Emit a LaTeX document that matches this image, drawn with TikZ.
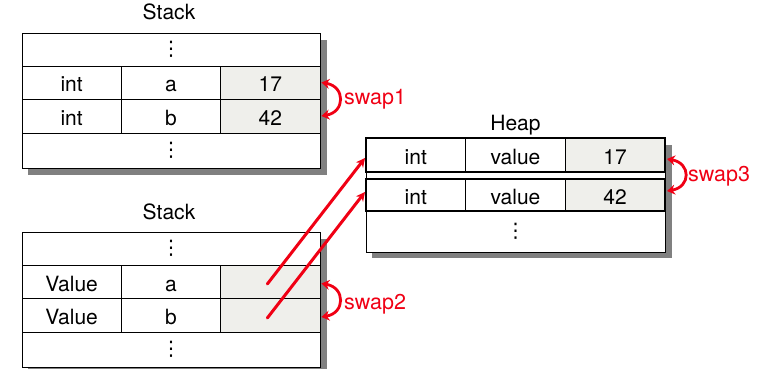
\documentclass[tikz,border=0pt]{standalone}
\usepackage{fontspec}
\setmainfont{TeX Gyre Heros}
\newfontfamily\dotsfont{DejaVu Sans}
\usetikzlibrary{arrows.meta}
\definecolor{cellgray}{RGB}{239,239,235}
\definecolor{swapred}{RGB}{240,0,20}
\begin{document}
\begin{tikzpicture}[x=1pt,y=-1pt,
  txt/.style={font=\fontsize{21}{25}\selectfont,inner sep=0pt,text height=19pt,text depth=0pt},
  cell/.style={txt,draw=black,fill=white,line width=0.8pt,minimum width=99.33pt,anchor=center},
  valcell/.style={cell,fill=cellgray},
  dotcell/.style={draw=black,fill=white,line width=0.8pt,inner sep=0pt,font=\dotsfont\fontsize{20}{24}\selectfont,anchor=center},
  heaprow/.style={draw=black,line width=2pt,inner sep=0pt,minimum width=299pt},
  shadowbox/.style={fill=black!50,draw=none},
  swaparrow/.style={draw=swapred,line width=2.8pt,{Stealth[length=8pt,width=10pt]}-{Stealth[length=8pt,width=10pt]}},
  ptr/.style={draw=swapred,line width=3pt,line cap=round,-{Stealth[length=9pt,width=9pt]}},
  swaplabel/.style={txt,font=\fontsize{21.5}{25}\selectfont,text=swapred,anchor=west}]
\useasboundingbox (0,0) rectangle (769,369);

% ---------- Stack 1 ----------
\node[txt] (t1) at (169,10.5) {Stack};
\fill[shadowbox] (28,40) rectangle (327,175);
\node[dotcell,minimum width=298pt,minimum height=33pt] (s1top) at (171,49.5) {⋮};
\node[cell,minimum height=33pt] (s1a1) at (71.67,82.5) {int};
\node[cell,minimum height=33pt] (s1a2) at (171,82.5) {a};
\node[valcell,minimum height=33pt] (s1a3) at (270.33,82.5) {17};
\node[cell,minimum height=34pt] (s1b1) at (71.67,116) {int};
\node[cell,minimum height=34pt] (s1b2) at (171,116) {b};
\node[valcell,minimum height=34pt] (s1b3) at (270.33,116) {42};
\node[dotcell,minimum width=298pt,minimum height=35pt] (s1bot) at (171,150.5) {⋮};

% ---------- Stack 2 ----------
\node[txt] (t2) at (169,209.5) {Stack};
\fill[shadowbox] (28,239) rectangle (327,374);
\node[dotcell,minimum width=298pt,minimum height=33pt] (s2top) at (171,248.5) {⋮};
\node[cell,minimum height=33pt] (s2a1) at (71.67,281.5) {Value};
\node[cell,minimum height=33pt] (s2a2) at (171,281.5) {a};
\node[valcell,minimum height=33pt] (s2a3) at (270.33,281.5) {};
\node[cell,minimum height=34pt] (s2b1) at (71.67,315) {Value};
\node[cell,minimum height=34pt] (s2b2) at (171,315) {b};
\node[valcell,minimum height=34pt] (s2b3) at (270.33,315) {};
\node[dotcell,minimum width=298pt,minimum height=35pt] (s2bot) at (171,349.5) {⋮};

% ---------- Heap ----------
\node[txt] (t3) at (515.5,120.5) {Heap};
\fill[shadowbox] (372,145) rectangle (672,258);
\fill[white] (366,138) rectangle (665,252);
\draw[line width=0.8pt] (366,138) rectangle (665,252);
\node[cell,minimum width=99.67pt,minimum height=34pt] (h1a) at (415.83,155) {int};
\node[cell,minimum width=99.67pt,minimum height=34pt] (h1b) at (515.5,155) {value};
\node[valcell,minimum width=99.67pt,minimum height=34pt] (h1c) at (615.17,155) {17};
\node[heaprow,minimum height=34pt] (h1) at (515.5,155) {};
\node[cell,minimum width=99.67pt,minimum height=32pt] (h2a) at (415.83,195) {int};
\node[cell,minimum width=99.67pt,minimum height=32pt] (h2b) at (515.5,195) {value};
\node[valcell,minimum width=99.67pt,minimum height=32pt] (h2c) at (615.17,195) {42};
\node[heaprow,minimum height=32pt] (h2) at (515.5,195) {};
\node[dotcell,minimum width=299pt,minimum height=41pt] (hbot) at (515.5,231.5) {⋮};

% ---------- pointers ----------
\draw[ptr] ([xshift=-3pt,yshift=-2.5pt]s2a3.center) -- ([yshift=-3pt]h1.west);
\draw[ptr] ([xshift=-3pt,yshift=-3pt]s2b3.center) -- ([yshift=3pt]h2.west);

% ---------- swaps ----------
\draw[swaparrow] ([xshift=1pt]s1a3.east) .. controls +(24,4) and +(24,-4) .. ([xshift=1pt]s1b3.east);
\node[swaplabel] (l1) at (344,95.5) {swap1};
\draw[swaparrow] ([xshift=1pt,yshift=-2pt]s2a3.east) .. controls +(24,4) and +(24,-4) .. ([xshift=1pt,yshift=-2pt]s2b3.east);
\node[swaplabel] (l2) at (344,299.5) {swap2};
\draw[swaparrow] ([xshift=1pt,yshift=-4pt]h1.east) .. controls +(24,4) and +(24,-4) .. ([xshift=1pt,yshift=4pt]h2.east);
\node[swaplabel] (l3) at (688,171.5) {swap3};
\end{tikzpicture}
\end{document}
